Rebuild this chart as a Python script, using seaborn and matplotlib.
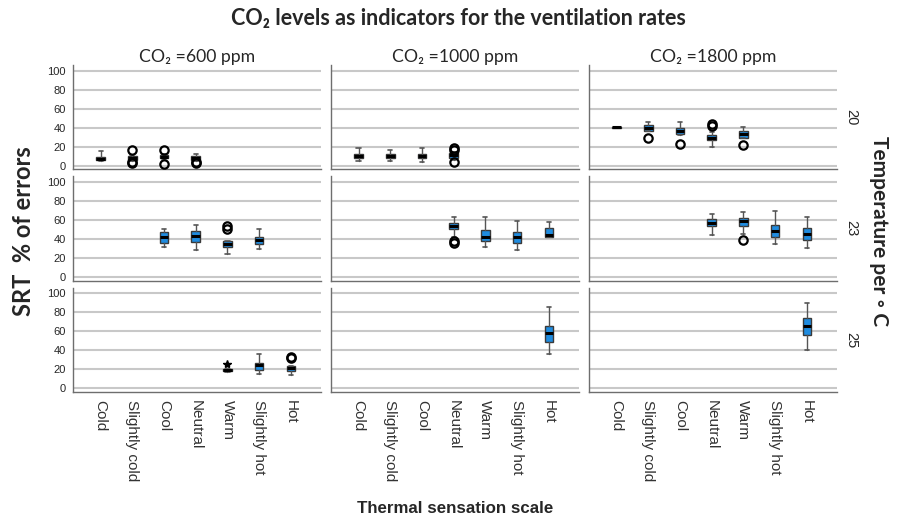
import numpy as np
import pandas as pd
import matplotlib.pyplot as plt
import seaborn as sns

# --- data (five-number summaries per box) ---
categories = ['Cold', 'Slightly cold', 'Cool', 'Neutral', 'Warm', 'Slightly hot', 'Hot']
co2_levels = [600, 1000, 1800]
temperatures = [20, 23, 25]

box_co2 = [600, 600, 600, 600,
           1000, 1000, 1000, 1000,
           1800, 1800, 1800, 1800, 1800,
           600, 600, 600, 600,
           1000, 1000, 1000, 1000,
           1800, 1800, 1800, 1800,
           600, 600, 600,
           1000,
           1800]
box_temp = [20] * 13 + [23] * 12 + [25] * 5
box_cat = ['Cold', 'Slightly cold', 'Cool', 'Neutral',
           'Cold', 'Slightly cold', 'Cool', 'Neutral',
           'Cold', 'Slightly cold', 'Cool', 'Neutral', 'Warm',
           'Cool', 'Neutral', 'Warm', 'Slightly hot',
           'Neutral', 'Warm', 'Slightly hot', 'Hot',
           'Neutral', 'Warm', 'Slightly hot', 'Hot',
           'Warm', 'Slightly hot', 'Hot',
           'Hot',
           'Hot']
whisker_low = [5, 5, 7, 5,
               5, 5, 4, 6,
               39.5, 36, 32, 20, 29,
               31, 28, 24, 29,
               42, 32, 28, 42,
               44, 45, 35, 30,
               17.5, 15, 14,
               36,
               40]
q1 = [5.5, 6, 8, 6,
      8, 8, 8, 8,
      39.7, 37, 33, 26.5, 29.5,
      36, 37, 31, 35,
      50, 38, 36, 42,
      53.5, 53.5, 42, 38.5,
      18, 19.5, 18.5,
      48.5,
      55.5]
median = [7.5, 8, 9, 8,
          10, 10, 10, 11,
          40.2, 40, 37, 29.5, 33,
          42, 43, 34.5, 38.5,
          53.5, 42, 42, 44,
          57, 59, 48, 45.5,
          19, 24, 21,
          58,
          65]
q3 = [9.5, 10, 11, 10,
      12.5, 12, 12, 13,
      40.8, 42.5, 39.5, 32.5, 36,
      47, 48, 38, 42,
      57, 49, 47.5, 52,
      61.5, 62, 54.5, 51.5,
      20, 27, 23.5,
      65,
      74]
whisker_high = [15, 11, 12, 12,
                18.5, 16.5, 18.5, 14,
                41, 45.5, 45.5, 35, 41,
                50, 54.5, 38, 50,
                63, 63, 59, 58,
                66, 68, 69, 63,
                20.5, 36, 23.5,
                85,
                89.5]
outliers = [[], [16, 4, 2.5], [16, 2], [4, 3],
            [], [], [], [19, 16.5, 4],
            [], [29], [23], [44, 42], [22],
            [], [], [54, 50], [],
            [38, 36], [], [], [],
            [], [38.5], [], [],
            [], [], [33, 31.5],
            [],
            []]
extremes = [[], [], [], [],
            [], [], [], [],
            [], [], [], [], [],
            [], [], [], [],
            [], [], [], [],
            [], [], [], [],
            [25], [], [],
            [],
            []]

boxes = pd.DataFrame({'co2': box_co2, 'temp': box_temp, 'cat': box_cat,
                      'whislo': whisker_low, 'q1': q1, 'med': median,
                      'q3': q3, 'whishi': whisker_high,
                      'fliers': outliers, 'extremes': extremes})

sns.set_style('white')
plt.rcParams['font.family'] = ['Liberation Sans', 'DejaVu Sans']

fig, axes = plt.subplots(3, 3, figsize=(8.98, 5.19), dpi=100, sharex=True, sharey=True)
fig.subplots_adjust(left=0.0813, right=0.932, top=0.8748, bottom=0.2447,
                    wspace=0.04, hspace=0.065)

box_blue = '#1f8ce0'
edge = '#3a3a3a'

for i, temp in enumerate(temperatures):
    for j, co2 in enumerate(co2_levels):
        ax = axes[i, j]
        sub = boxes[(boxes['co2'] == co2) & (boxes['temp'] == temp)]
        stats = []
        pos = []
        for _, r in sub.iterrows():
            stats.append({'whislo': r['whislo'], 'q1': r['q1'], 'med': r['med'],
                          'q3': r['q3'], 'whishi': r['whishi'],
                          'fliers': np.array(r['fliers'])})
            pos.append(categories.index(r['cat']))
        if stats:
            ax.bxp(stats, positions=pos, widths=0.27, patch_artist=True,
                   showfliers=True, capwidths=0.13,
                   boxprops=dict(facecolor=box_blue, edgecolor=edge, linewidth=1),
                   medianprops=dict(color='black', linewidth=2.2),
                   whiskerprops=dict(color='#555555', linewidth=1),
                   capprops=dict(color='#555555', linewidth=1.2),
                   flierprops=dict(marker='o', markerfacecolor='none',
                                   markeredgecolor='black', markersize=6,
                                   markeredgewidth=1.6),
                   zorder=3)
            for p, (_, r) in zip(pos, sub.iterrows()):
                if r['extremes']:
                    ax.plot([p] * len(r['extremes']), r['extremes'], marker='*',
                            linestyle='none', color='black', markersize=6, zorder=4)

        ax.set_ylim(-4, 106)
        ax.set_xlim(-0.87, 6.95)
        ax.set_yticks([0, 20, 40, 60, 80, 100])
        ax.yaxis.grid(True, color='#c8c8c8', linewidth=1.5)
        ax.set_axisbelow(True)
        for s in ['top', 'right']:
            ax.spines[s].set_visible(False)
        for s in ['left', 'bottom']:
            ax.spines[s].set_color('#6e6e6e')
            ax.spines[s].set_linewidth(1)
        ax.tick_params(axis='y', labelsize=8, length=3, width=0.8,
                       color='#6e6e6e', pad=2, labelleft=(j == 0))
        ax.tick_params(axis='x', length=0, labelsize=11, pad=6, labelcolor='#333333')
        ax.set_xticks(range(len(categories)))
        if i == 2:
            ax.set_xticklabels(categories, rotation=270, va='top', ha='center')
        if i == 0:
            ax.set_title(f'CO\u2082 ={co2} ppm', fontsize=12.7,
                         family=['Lato', 'DejaVu Sans'], pad=2)
        if j == 2:
            ax.text(1.03, 0.5, str(temp), transform=ax.transAxes, rotation=270,
                    va='center', ha='left', fontsize=10.5)

fig.suptitle('CO\u2082 levels as indicators for the ventilation rates', x=0.51, y=0.985,
             fontsize=15.5, fontweight='bold', family=['Lato', 'DejaVu Sans'])
fig.text(0.026, 0.555, 'SRT  % of errors', rotation=90, va='center', ha='center',
         fontsize=17, fontweight='bold', family=['Lato', 'DejaVu Sans'])
fig.text(0.979, 0.555, 'Temperature per \u25e6 C', rotation=270, va='center',
         ha='center', fontsize=15, fontweight='bold', family=['Lato', 'DejaVu Sans'])
fig.text(0.507, 0.021, 'Thermal sensation scale', va='center', ha='center',
         fontsize=12.2, fontweight='bold')

plt.savefig('out.png', dpi=100)
